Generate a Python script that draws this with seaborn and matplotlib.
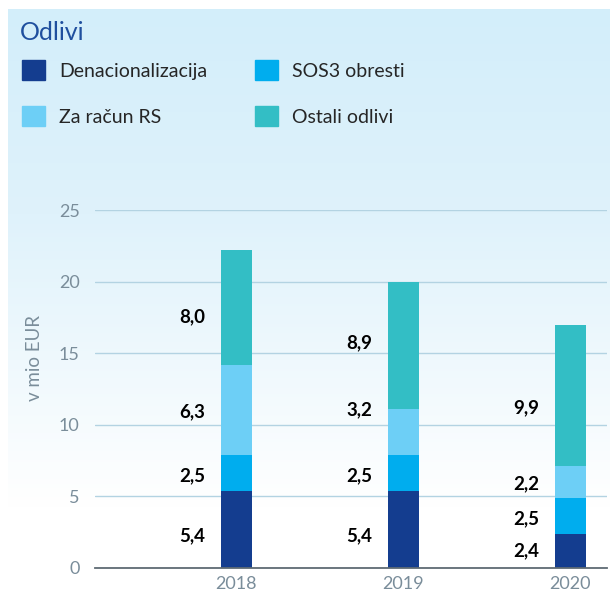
import numpy as np
import pandas as pd
import matplotlib
matplotlib.use('Agg')
import matplotlib.pyplot as plt
import matplotlib.patches as mpatches
import seaborn as sns

# podatki (v mio EUR)
years = ['2018', '2019', '2020']
series = ['Denacionalizacija', 'SOS3 obresti', 'Za račun RS', 'Ostali odlivi']
denac = [5.4, 5.4, 2.4]
sos3 = [2.5, 2.5, 2.5]
za_racun = [6.3, 3.2, 2.2]
ostali = [8.0, 8.9, 9.9]
colors = ['#143d8f', '#00adee', '#6dcff6', '#33bec5']

# rocni zamiki oznak (kot v originalu), v enotah osi y
label_shift = [[-0.42, -0.2, -0.15, -0.63],
               [-0.42, -0.2, 1.55, 0.2],
               [0.0, -0.2, -0.15, -0.85]]

sns.set_theme(style='white')
plt.rcParams['font.family'] = ['Lato', 'DejaVu Sans']

df = pd.DataFrame({'leto': years, series[0]: denac, series[1]: sos3,
                   series[2]: za_racun, series[3]: ostali})
cum = df[series].cumsum(axis=1)

fig = plt.figure(figsize=(6.1, 5.95), dpi=100)

# ozadje z gradientom
bg = fig.add_axes([8 / 610, 0, 1 - 8 / 610, 1 - 9 / 595], zorder=0)
grad = np.linspace(0, 1, 256).reshape(-1, 1)
cmap = matplotlib.colors.LinearSegmentedColormap.from_list(
    'bg', [(0, '#d3eefa'), (0.35, '#dff2fb'), (0.85, '#ffffff'), (1, '#ffffff')])
bg.imshow(grad, aspect='auto', cmap=cmap, extent=[0, 1, 0, 1])
bg.axis('off')

ax = fig.add_axes([95 / 610, 27 / 595, 512 / 610, 358 / 595], zorder=1)
ax.patch.set_alpha(0)

# zlozeni stolpci - od vrha navzdol
for s, c in reversed(list(zip(series, colors))):
    sns.barplot(data=cum.assign(leto=years), x='leto', y=s, color=c,
                width=0.186, saturation=1, linewidth=0, ax=ax, zorder=3)

# oznake vrednosti levo od stolpcev
for i in range(len(years)):
    base = 0
    for j, s in enumerate(series):
        v = df.loc[i, s]
        ax.text(i - 0.185, base + v / 2 + label_shift[i][j],
                f'{v:.1f}'.replace('.', ','),
                ha='right', va='center', fontsize=13.5, fontweight='bold',
                color='black')
        base += v

ax.set_xlim(-0.847, 2.22)
ax.set_ylim(0, 25)
ax.set_yticks([0, 5, 10, 15, 20, 25])
ax.set_xlabel('')
ax.set_ylabel('')
ax.grid(axis='y', color='#b3d3e2', lw=1, zorder=0)
ax.grid(axis='x', visible=False)
for sp in ['top', 'right', 'left']:
    ax.spines[sp].set_visible(False)
ax.spines['bottom'].set_color('#5f6b74')
ax.spines['bottom'].set_linewidth(1.3)
ax.spines['bottom'].set_zorder(4)
ax.tick_params(axis='y', length=0, pad=11, labelsize=13, labelcolor='#7a8d9a')
ax.tick_params(axis='x', length=0, pad=6, labelsize=13, labelcolor='#7a8d9a')

fig.text(35 / 610, 1 - 358 / 595, 'v mio EUR', rotation=90, ha='center',
         va='center', fontsize=13.5, color='#7a8d9a')

fig.text(20 / 610, 1 - 32 / 595, 'Odlivi', fontsize=18, color='#1f4f9e',
         ha='left', va='center')

handles = [mpatches.Patch(color=colors[0], label=series[0]),
           mpatches.Patch(color=colors[2], label=series[2]),
           mpatches.Patch(color=colors[1], label=series[1]),
           mpatches.Patch(color=colors[3], label=series[3])]
fig.legend(handles=handles, loc='upper left', bbox_to_anchor=(22 / 610, 1 - 60 / 595),
           ncol=2, frameon=False, fontsize=14, handlelength=1.2,
           handleheight=1.2, handletextpad=0.72, columnspacing=2.45,
           labelspacing=1.35, borderaxespad=0, borderpad=0)

fig.savefig('out.png', dpi=100)
